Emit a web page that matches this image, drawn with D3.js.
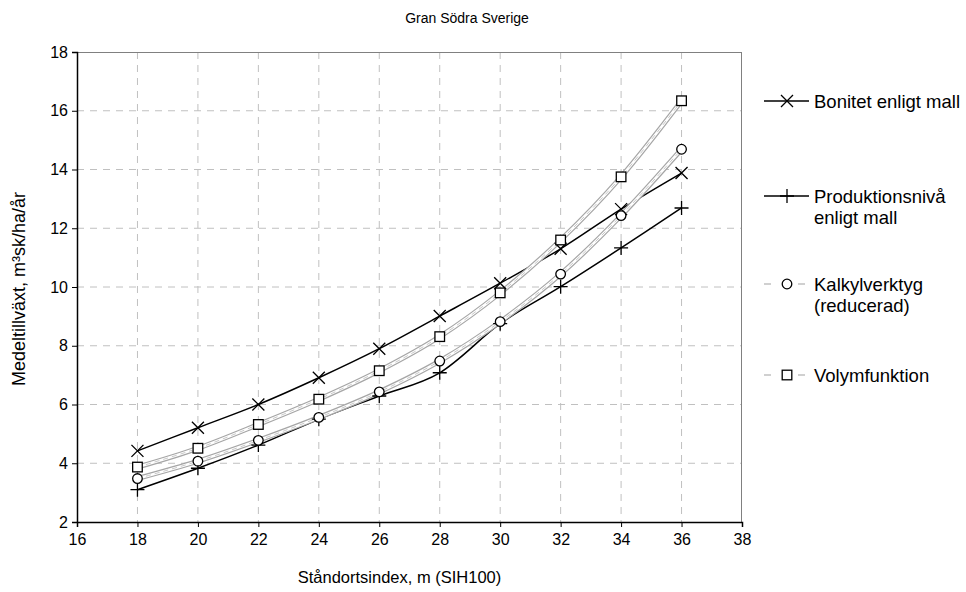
<!DOCTYPE html>
<html>
<head>
<meta charset="utf-8">
<script src="https://cdn.jsdelivr.net/npm/d3@7"></script>
<style>
  body { margin: 0; background: #fff; }
  text { font-family: "Liberation Sans", Arial, sans-serif; fill: #000; }
</style>
</head>
<body>
<script>
// site index (SIH100)
const siteIndex = [18, 20, 22, 24, 26, 28, 30, 32, 34, 36];

const bonitet = [4.42, 5.21, 6.0, 6.91, 7.9, 9.01, 10.13, 11.3, 12.65, 13.88];
const produktion = [3.1, 3.83, 4.62, 5.5, 6.29, 7.08, 8.75, 10.01, 11.33, 12.69];
const kalkyl = [3.48, 4.07, 4.78, 5.56, 6.43, 7.48, 8.82, 10.44, 12.43, 14.69];
const volym = [3.87, 4.51, 5.32, 6.18, 7.15, 8.31, 9.8, 11.6, 13.75, 16.34];

const xTicks = [16, 18, 20, 22, 24, 26, 28, 30, 32, 34, 36, 38];
const yTicks = [2, 4, 6, 8, 10, 12, 14, 16, 18];

const W = 966, H = 592;
const margin = {top: 52, right: 224, bottom: 70, left: 77};
const width = W - margin.left - margin.right;
const height = H - margin.top - margin.bottom;

const svg = d3.select("body").append("svg")
  .attr("width", W).attr("height", H);

const g = svg.append("g")
  .attr("transform", "translate(" + margin.left + "," + margin.top + ")");

const x = d3.scaleLinear().domain([16, 38]).range([0, width]);
const y = d3.scaleLinear().domain([2, 18]).range([height, 0]);

// grid
g.append("g").selectAll("line")
  .data(yTicks.filter(d => d > 2 && d < 18)).enter().append("line")
  .attr("x1", 0).attr("x2", width)
  .attr("y1", d => y(d)).attr("y2", d => y(d))
  .attr("stroke", "#c0c0c0").attr("stroke-dasharray", "7,6");
g.append("g").selectAll("line")
  .data(xTicks.filter(d => d > 16 && d < 38)).enter().append("line")
  .attr("y1", 0).attr("y2", height)
  .attr("x1", d => x(d)).attr("x2", d => x(d))
  .attr("stroke", "#c0c0c0").attr("stroke-dasharray", "7,6");

// top + right border
g.append("line").attr("x1", 0).attr("x2", width).attr("y1", 0.5).attr("y2", 0.5).attr("stroke", "#808080");
g.append("line").attr("x1", width - 0.5).attr("x2", width - 0.5).attr("y1", 0).attr("y2", height).attr("stroke", "#808080");

// axes
const xAxis = d3.axisBottom(x).tickValues(xTicks).tickSize(5).tickPadding(7);
const yAxis = d3.axisLeft(y).tickValues(yTicks).tickSize(5).tickPadding(4);

const gx = g.append("g").attr("transform", "translate(0," + height + ")").call(xAxis);
const gy = g.append("g").call(yAxis);
[gx, gy].forEach(a => {
  a.select(".domain").attr("stroke", "#000").attr("stroke-width", 1.5);
  a.selectAll(".tick line").attr("stroke", "#000");
  a.selectAll("text").style("font-size", "16px").attr("fill", "#000");
});

// axis titles
svg.append("text").attr("x", margin.left + width / 2 - 10).attr("y", 583)
  .attr("text-anchor", "middle").style("font-size", "16.5px")
  .text("Ståndortsindex, m (SIH100)");
svg.append("text")
  .attr("transform", "translate(25," + (margin.top + height / 2 + 2) + ") rotate(-90)")
  .attr("text-anchor", "middle").style("font-size", "18px")
  .text("Medeltillväxt, m³sk/ha/år");
svg.append("text").attr("x", 467).attr("y", 23)
  .attr("text-anchor", "middle").style("font-size", "14px")
  .text("Gran Södra Sverige");

const line = d3.line()
  .x((d, i) => x(siteIndex[i]))
  .y(d => y(d))
  .curve(d3.curveCatmullRom.alpha(0));

// black series
[bonitet, produktion].forEach(s => {
  g.append("path").datum(s).attr("d", line)
    .attr("fill", "none").attr("stroke", "#000").attr("stroke-width", 1.5);
});

// gray double lines
function grayLine(sel, d) {
  sel.append("path").attr("d", d).attr("fill", "none").attr("stroke", "#a6a6a6").attr("stroke-width", 5);
  sel.append("path").attr("d", d).attr("fill", "none").attr("stroke", "#fff").attr("stroke-width", 2.6);
  sel.append("path").attr("d", d).attr("fill", "none").attr("stroke", "#c8c8c8")
    .attr("stroke-width", 1).attr("stroke-dasharray", "5,4");
}
[kalkyl, volym].forEach(s => grayLine(g.append("g"), line(s)));

// markers
const markers = {
  x: sel => sel.append("path").attr("d", "M-6,-6L6,6M-6,6L6,-6").attr("stroke", "#000").attr("stroke-width", 1.3).attr("fill", "none"),
  plus: sel => sel.append("path").attr("d", "M-7,0L7,0M0,-7L0,7").attr("stroke", "#000").attr("stroke-width", 1.3).attr("fill", "none"),
  circle: sel => sel.append("circle").attr("r", 4.8).attr("fill", "#fff").attr("stroke", "#000").attr("stroke-width", 1.3),
  square: sel => sel.append("rect").attr("x", -4.8).attr("y", -4.8).attr("width", 9.6).attr("height", 9.6).attr("fill", "#fff").attr("stroke", "#000").attr("stroke-width", 1.3)
};

function drawMarkers(s, kind) {
  g.append("g").selectAll("g").data(s).enter().append("g")
    .attr("transform", (d, i) => "translate(" + x(siteIndex[i]) + "," + y(d) + ")")
    .each(function() { markers[kind](d3.select(this)); });
}
drawMarkers(bonitet, "x");
drawMarkers(produktion, "plus");
drawMarkers(kalkyl, "circle");
drawMarkers(volym, "square");

// legend
const legendItems = [
  {lines: ["Bonitet enligt mall"], y: 101, kind: "x", gray: false},
  {lines: ["Produktionsnivå", "enligt mall"], y: 196, kind: "plus", gray: false},
  {lines: ["Kalkylverktyg", "(reducerad)"], y: 284, kind: "circle", gray: true},
  {lines: ["Volymfunktion"], y: 375, kind: "square", gray: true}
];
const lg = svg.append("g");
legendItems.forEach(it => {
  const row = lg.append("g").attr("transform", "translate(0," + it.y + ")");
  if (it.gray) {
    row.append("line").attr("x1", 764).attr("x2", 771).attr("stroke", "#c0c0c0").attr("stroke-width", 1.5);
    row.append("line").attr("x1", 798).attr("x2", 805).attr("stroke", "#c0c0c0").attr("stroke-width", 1.5);
  } else {
    row.append("line").attr("x1", 764).attr("x2", 809).attr("stroke", "#000").attr("stroke-width", 1.5);
  }
  markers[it.kind](row.append("g").attr("transform", "translate(787,0)"));
  row.append("text").attr("x", 814).attr("y", 6.5).style("font-size", "18.5px")
    .selectAll("tspan").data(it.lines).enter().append("tspan")
    .attr("x", 814).attr("dy", (d, i) => i ? 21 : 0).text(d => d);
});
</script>
</body>
</html>
